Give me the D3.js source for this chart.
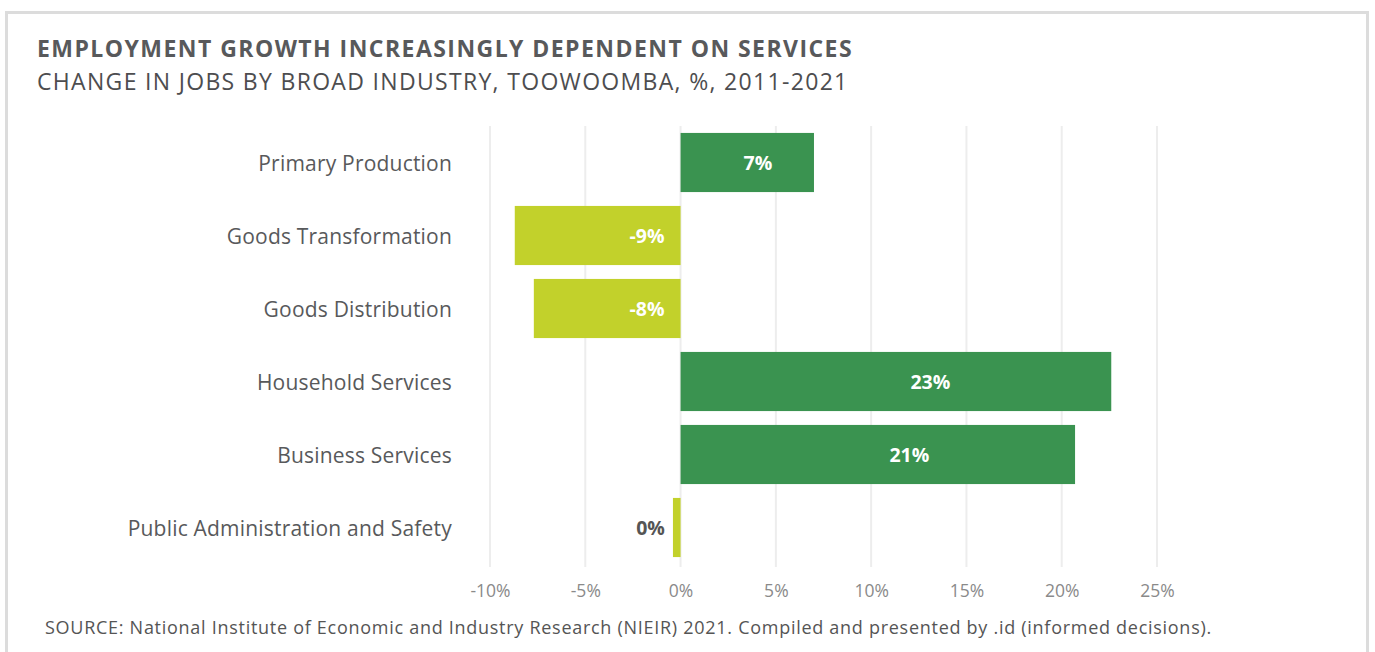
<!DOCTYPE html>
<html>
<head>
<meta charset="utf-8">
<script src="https://cdn.jsdelivr.net/npm/d3@7"></script>
<style>
  html, body { margin: 0; padding: 0; background: #fff; }
  svg { display: block; }
  text { font-family: "Open Sans", Lato, sans-serif; }
</style>
</head>
<body>
<svg id="chart" width="1375" height="652"></svg>
<script>
const titleText = "EMPLOYMENT GROWTH INCREASINGLY DEPENDENT ON SERVICES";
const subtitleText = "CHANGE IN JOBS BY BROAD INDUSTRY, TOOWOOMBA, %, 2011-2021";
const sourceText = "SOURCE: National Institute of Economic and Industry Research (NIEIR) 2021. Compiled and presented by .id (informed decisions).";
const categories = ["Primary Production", "Goods Transformation", "Goods Distribution", "Household Services", "Business Services", "Public Administration and Safety"];
const values = [7.0, -8.7, -7.7, 22.6, 20.7, -0.4];
const valueLabels = ["7%", "-9%", "-8%", "23%", "21%", "0%"];
const xTicks = [-10, -5, 0, 5, 10, 15, 20, 25];

const svg = d3.select("#chart");

svg.append("rect")
  .attr("x", 6.5).attr("y", 12.5)
  .attr("width", 1361).attr("height", 700)
  .attr("fill", "#fff").attr("stroke", "#dcdcdc").attr("stroke-width", 3);

svg.append("text").attr("x", 37).attr("y", 57)
  .attr("font-size", 23).attr("font-weight", 700).attr("fill", "#58595b")
  .attr("letter-spacing", 1.45)
  .text(titleText);
svg.append("text").attr("x", 37).attr("y", 89.5)
  .attr("font-size", 23).attr("font-weight", 400).attr("fill", "#4d4d4f")
  .attr("letter-spacing", 1.32)
  .text(subtitleText);

const x = d3.scaleLinear().domain([-10, 25]).range([490, 1157]);
const y = d3.scaleBand().domain(categories).range([126, 564]).paddingInner(0.19).paddingOuter(0.095);

svg.append("g").selectAll("line").data(xTicks).join("line")
  .attr("x1", d => x(d)).attr("x2", d => x(d))
  .attr("y1", 126).attr("y2", 567)
  .attr("stroke", "#ededed").attr("stroke-width", 2);

const xAxis = d3.axisBottom(x).tickValues(xTicks).tickFormat(d => d + "%").tickSize(0).tickPadding(0);
const gx = svg.append("g").attr("transform", "translate(0,597)").call(xAxis);
gx.select(".domain").remove();
gx.selectAll("text").attr("y", 0).attr("dy", 0)
  .attr("font-size", 17.5).attr("fill", "#8a8a8a").attr("font-family", "'Open Sans', sans-serif").attr("font-weight", 400);

const yAxis = d3.axisLeft(y).tickSize(0).tickPadding(0);
const gy = svg.append("g").attr("transform", "translate(452,0)").call(yAxis);
gy.select(".domain").remove();
gy.selectAll("text").attr("font-size", 21).attr("fill", "#58595b").attr("letter-spacing", 0.2)
  .attr("dy", "0.4em").attr("font-family", "'Open Sans', sans-serif");

const data = categories.map((c, i) => ({ c, v: values[i], label: valueLabels[i] }));

svg.append("g").selectAll("rect").data(data).join("rect")
  .attr("x", d => x(Math.min(0, d.v)))
  .attr("width", d => Math.abs(x(d.v) - x(0)))
  .attr("y", d => y(d.c))
  .attr("height", y.bandwidth())
  .attr("fill", d => d.v >= 0 ? "#3a9350" : "#c2d12b");

svg.append("g").selectAll("text").data(data).join("text")
  .attr("x", d => {
    if (d.v >= 0) return x(d.v * 0.58);
    const w = x(0) - x(d.v);
    return w > 40 ? x(0) - 16 : x(d.v) - 8;
  })
  .attr("y", d => y(d.c) + y.bandwidth() / 2)
  .attr("dy", "0.36em")
  .attr("text-anchor", d => d.v >= 0 ? "middle" : "end")
  .attr("font-size", 19.5).attr("font-weight", 700)
  .attr("fill", d => (d.v < 0 && (x(0) - x(d.v)) <= 40) ? "#555" : "#fff")
  .text(d => d.label);

svg.append("text").attr("x", 45).attr("y", 634)
  .attr("font-size", 18).attr("font-weight", 400).attr("fill", "#555")
  .attr("letter-spacing", 0.72)
  .text(sourceText);
</script>
</body>
</html>
